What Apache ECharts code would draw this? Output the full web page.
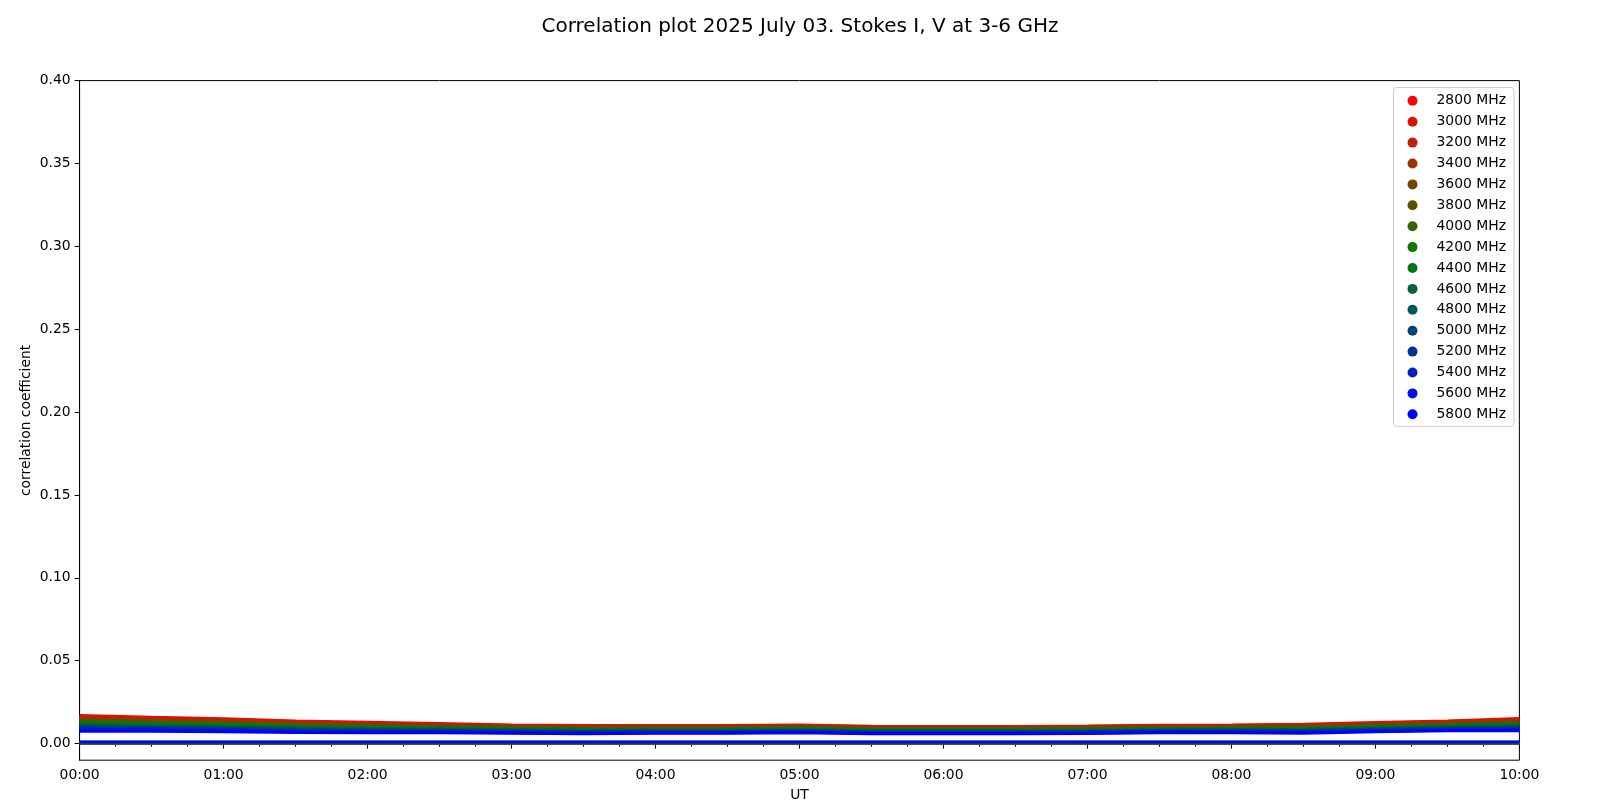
<!DOCTYPE html>
<html>
<head>
<meta charset="utf-8">
<script src="https://cdn.jsdelivr.net/npm/echarts@6/dist/echarts.min.js"></script>
<style>
html,body{margin:0;padding:0;background:#fff;}
#chart{width:1600px;height:800px;}
</style>
</head>
<body>
<div id="chart"></div>
<script>
// ---- data ----
const freqNames = ['2800 MHz','3000 MHz','3200 MHz','3400 MHz','3600 MHz','3800 MHz','4000 MHz','4200 MHz',
                   '4400 MHz','4600 MHz','4800 MHz','5000 MHz','5200 MHz','5400 MHz','5600 MHz','5800 MHz'];
// UT hours
const timesUT = [0,0.5,1,1.5,2,2.5,3,3.5,4,4.5,5,5.5,6,6.5,7,7.5,8,8.5,9,9.5,10];
// Stokes I correlation per frequency
const i2800 = [.0170,.0159,.0150,.0137,.0129,.0121,.0113,.0109,.0109,.0109,.0112,.0105,.0103,.0104,.0107,.0111,.0113,.0117,.0127,.0137,.0151];
const i3000 = [.0164,.0153,.0145,.0132,.0125,.0117,.0110,.0106,.0106,.0106,.0109,.0102,.0100,.0101,.0104,.0108,.0110,.0113,.0123,.0133,.0146];
const i3200 = [.0157,.0148,.0139,.0128,.0120,.0114,.0106,.0102,.0103,.0103,.0106,.0099,.0097,.0098,.0101,.0105,.0107,.0110,.0120,.0129,.0141];
const i3400 = [.0151,.0142,.0134,.0123,.0116,.0110,.0103,.0099,.0100,.0100,.0103,.0096,.0094,.0095,.0098,.0102,.0104,.0106,.0116,.0125,.0136];
const i3600 = [.0145,.0137,.0129,.0118,.0112,.0106,.0100,.0096,.0096,.0097,.0100,.0093,.0091,.0092,.0095,.0099,.0100,.0103,.0112,.0121,.0131];
const i3800 = [.0138,.0131,.0124,.0114,.0108,.0102,.0096,.0092,.0093,.0094,.0097,.0090,.0088,.0089,.0092,.0096,.0097,.0099,.0108,.0117,.0126];
const i4000 = [.0132,.0125,.0118,.0109,.0103,.0099,.0093,.0089,.0090,.0091,.0094,.0087,.0085,.0086,.0089,.0093,.0094,.0095,.0105,.0113,.0121];
const i4200 = [.0126,.0120,.0113,.0104,.0099,.0095,.0090,.0086,.0087,.0088,.0091,.0084,.0082,.0083,.0086,.0090,.0091,.0092,.0101,.0109,.0116];
const i4400 = [.0119,.0114,.0108,.0100,.0095,.0091,.0086,.0082,.0084,.0084,.0087,.0080,.0080,.0080,.0082,.0086,.0088,.0088,.0097,.0105,.0112];
const i4600 = [.0113,.0109,.0103,.0095,.0091,.0087,.0083,.0079,.0081,.0081,.0084,.0077,.0077,.0077,.0079,.0083,.0085,.0085,.0093,.0101,.0107];
const i4800 = [.0107,.0103,.0097,.0090,.0086,.0084,.0080,.0076,.0078,.0078,.0081,.0074,.0074,.0074,.0076,.0080,.0082,.0081,.0090,.0097,.0102];
const i5000 = [.0100,.0097,.0092,.0086,.0082,.0080,.0076,.0072,.0075,.0075,.0078,.0071,.0071,.0071,.0073,.0077,.0079,.0077,.0086,.0093,.0097];
const i5200 = [.0094,.0092,.0087,.0081,.0078,.0076,.0073,.0069,.0071,.0072,.0075,.0068,.0068,.0068,.0070,.0074,.0075,.0074,.0082,.0089,.0092];
const i5400 = [.0088,.0086,.0082,.0076,.0074,.0072,.0070,.0066,.0068,.0069,.0072,.0065,.0065,.0065,.0067,.0071,.0072,.0070,.0078,.0085,.0087];
const i5600 = [.0081,.0081,.0076,.0072,.0069,.0069,.0066,.0062,.0065,.0066,.0069,.0062,.0062,.0062,.0064,.0068,.0069,.0067,.0075,.0081,.0082];
const i5800 = [.0075,.0075,.0071,.0067,.0065,.0065,.0063,.0059,.0062,.0063,.0066,.0059,.0059,.0059,.0061,.0065,.0066,.0063,.0071,.0077,.0077];
const stokesI = [i2800,i3000,i3200,i3400,i3600,i3800,i4000,i4200,i4400,i4600,i4800,i5000,i5200,i5400,i5600,i5800];
// Stokes V correlation (nearly flat) per frequency, at the start and end of the day
const vTimes = [0, 10];
const stokesV = [.0000,.0001,.0001,.0001,.0002,.0002,.0003,.0003,.0004,.0004,.0005,.0006,.0008,.0010,.0012,.0013];
// axis ticks
const xTicks = [0,1,2,3,4,5,6,7,8,9,10];
const yTicks = [0,0.05,0.10,0.15,0.20,0.25,0.30,0.35,0.40];

// ---- styles ----
const colors = ['#ff0000','#dd1100','#bb2200','#993300','#774400','#555500','#336600','#117700',
                '#007711','#006633','#005555','#004477','#003399','#0022bb','#0011dd','#0000ff'];
const FONT = 'DejaVu Sans';

const series = [];
freqNames.forEach((name, k) => {
  series.push({
    name: name, type: 'line', showSymbol: false, symbol: 'circle',
    color: colors[k], lineStyle: {width: 3, color: colors[k]},
    data: timesUT.map((t, j) => [t, stokesI[k][j]]),
    silent: true, animation: false
  });
  series.push({
    name: name, type: 'line', showSymbol: false, symbol: 'circle',
    color: colors[k], lineStyle: {width: 2, color: colors[k]},
    data: vTimes.map(t => [t, stokesV[k]]),
    silent: true, animation: false
  });
});

const chart = echarts.init(document.getElementById('chart'), null, {renderer: 'canvas'});
chart.setOption({
  animation: false,
  backgroundColor: '#fff',
  title: {
    text: 'Correlation plot 2025 July 03. Stokes I, V at 3-6 GHz',
    left: 'center', top: 12,
    textStyle: {fontFamily: FONT, fontSize: 20, fontWeight: 'normal', color: '#000'}
  },
  grid: {left: 79.6, right: 80.6, top: 80.6, bottom: 39.8, show: true,
         containLabel: false, outerBoundsMode: 'none',
         borderColor: '#000', borderWidth: 1, backgroundColor: 'transparent'},
  legend: {
    orient: 'vertical', right: 86, top: 87.5,
    icon: 'circle', itemWidth: 26, itemHeight: 10, itemGap: 6.9,
    padding: [6.3, 8, 5, 14],
    borderColor: '#cccccc', borderWidth: 1, borderRadius: 3,
    backgroundColor: 'rgba(255,255,255,0.8)',
    data: freqNames.map((n, k) => ({name: n, itemStyle: {color: colors[k]}})),
    textStyle: {fontFamily: FONT, fontSize: 13.9, color: '#000', lineHeight: 14, padding: [0,0,0,6]},
    selectedMode: false
  },
  xAxis: {
    type: 'value', min: 0, max: 10, interval: 1,
    name: 'UT', nameLocation: 'middle', nameGap: 28, nameMoveOverlap: false,
    nameTextStyle: {fontFamily: FONT, fontSize: 13.9, color: '#000'},
    axisLine: {show: true, lineStyle: {color: '#000', width: 1}},
    axisTick: {show: true, length: 5, lineStyle: {color: '#000'}},
    minorTick: {show: true, splitNumber: 4, length: 3, lineStyle: {color: '#000'}},
    splitLine: {show: false},
    axisLabel: {fontFamily: FONT, fontSize: 13.9, color: '#000', margin: 8,
                formatter: v => (v < 10 ? '0' : '') + v + ':00'}
  },
  yAxis: {
    type: 'value', min: -0.01, max: 0.40,
    name: 'correlation coefficient', nameLocation: 'middle', nameGap: 46, nameRotate: 90,
    nameMoveOverlap: false,
    nameTextStyle: {fontFamily: FONT, fontSize: 13.9, color: '#000'},
    axisLine: {show: true, lineStyle: {color: '#000', width: 1}},
    axisTick: {show: true, length: 5, lineStyle: {color: '#000'}, customValues: yTicks},
    splitLine: {show: false},
    axisLabel: {fontFamily: FONT, fontSize: 13.9, color: '#000', margin: 9,
                customValues: yTicks, formatter: v => v.toFixed(2)}
  },
  series: series
});
</script>
</body>
</html>
